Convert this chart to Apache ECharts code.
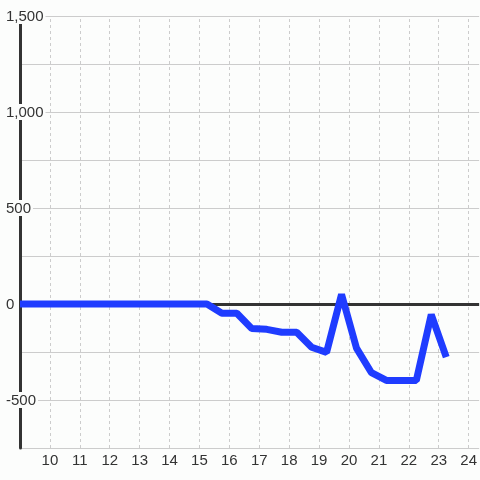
<!DOCTYPE html>
<html>
<head>
<meta charset="utf-8">
<script src="https://cdn.jsdelivr.net/npm/echarts@6/dist/echarts.min.js"></script>
<style>
html,body{margin:0;padding:0;background:#fcfdfc;}
#chart{width:480px;height:480px;}
</style>
</head>
<body>
<div id="chart"></div>
<script>
const times = [9, 9.25, 9.75, 10.25, 10.75, 11.25, 11.75, 12.25, 12.75, 13.25, 13.75, 14.25, 14.75, 15.25,
  15.75, 16.25, 16.75, 17.25, 17.75, 18.25, 18.75, 19.25, 19.75, 20.25, 20.75, 21.25, 21.75, 22.25, 22.75, 23.25];
const values = [0, 0, 0, 0, 0, 0, 0, 0, 0, 0, 0, 0, 0, 0,
  -48, -48, -128, -132, -147, -147, -225, -252, 50, -230, -358, -398, -398, -398, -55, -277];
const xTicks = [10, 11, 12, 13, 14, 15, 16, 17, 18, 19, 20, 21, 22, 23, 24];
const yTicks = [-500, 0, 500, 1000, 1500];

const chart = echarts.init(document.getElementById('chart'));
const bg = '#fcfdfc';
const font = 'Liberation Sans, Arial, sans-serif';
chart.setOption({
  backgroundColor: bg,
  animation: false,
  grid: {left: 20, right: 0, top: 16, bottom: 32, containLabel: false},
  xAxis: {
    type: 'value', min: 9, max: 24.35, interval: 1,
    axisLine: {show: false}, axisTick: {show: false},
    axisLabel: {
      showMinLabel: false, showMaxLabel: false, margin: 5,
      color: '#333', fontSize: 15, fontFamily: font,
      formatter: v => xTicks.includes(v) ? String(v) : ''
    },
    splitLine: {show: false}
  },
  yAxis: [
    {
      type: 'value', min: -750, max: 1500, interval: 250, position: 'left', z: 0,
      axisLine: {show: false}, axisTick: {show: false}, axisLabel: {show: false},
      splitLine: {show: true, lineStyle: {color: '#cccccc', width: 1}}
    },
    {
      type: 'value', min: -750, max: 1500, interval: 250, position: 'left', z: 1,
      axisLine: {show: true, lineStyle: {color: '#333', width: 3}},
      axisTick: {show: false},
      splitLine: {show: false},
      axisLabel: {
        show: true, align: 'left', margin: 16,
        formatter: v => yTicks.includes(v) ? '{a|' + v.toLocaleString('en-US') + '}' : '',
        rich: {a: {color: '#333', fontSize: 15, fontFamily: font, backgroundColor: bg, padding: [1, 2, 0, 2], lineHeight: 15}}
      }
    }
  ],
  series: [
    {
      type: 'line', data: [], z: 0, yAxisIndex: 0,
      markLine: {
        z: 0, silent: true, symbol: 'none', label: {show: false}, animation: false,
        lineStyle: {color: '#cccccc', width: 1, type: [3, 3]},
        data: xTicks.map(t => ({xAxis: t}))
      }
    },
    {
      type: 'line', data: [], z: 2, yAxisIndex: 0,
      markLine: {
        z: 2, silent: true, symbol: 'none', label: {show: false}, animation: false,
        lineStyle: {color: '#333', width: 3, type: 'solid'},
        data: [{yAxis: 0}]
      }
    },
    {
      type: 'line', z: 3, yAxisIndex: 0,
      data: times.map((t, i) => [t, values[i]]),
      showSymbol: false, symbol: 'none',
      lineStyle: {color: '#1f3cff', width: 7},
      clip: false
    }
  ]
});
</script>
</body>
</html>
